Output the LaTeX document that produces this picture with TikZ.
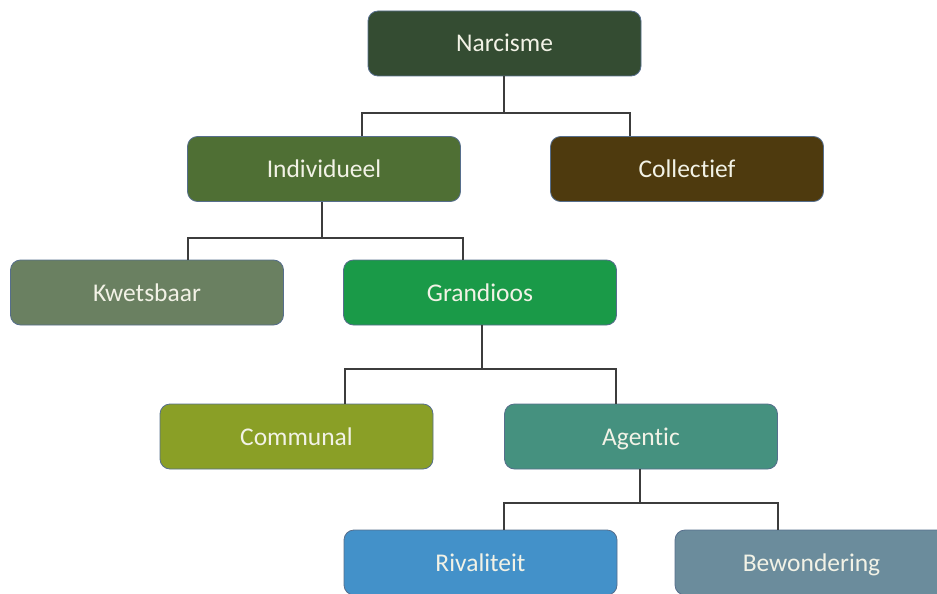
\documentclass[tikz,border=0pt]{standalone}
\usepackage{fontspec}
\setmainfont{Carlito}[Ligatures={NoCommon}]
\definecolor{cNarc}{HTML}{344C32}
\definecolor{cInd}{HTML}{4F6F34}
\definecolor{cCol}{HTML}{4E3A0E}
\definecolor{cKwe}{HTML}{6A8061}
\definecolor{cGra}{HTML}{1A9A48}
\definecolor{cCom}{HTML}{8A9F26}
\definecolor{cAge}{HTML}{45917F}
\definecolor{cRiv}{HTML}{4391C9}
\definecolor{cBew}{HTML}{6B8C9C}
\definecolor{cBorder}{HTML}{566E8C}
\definecolor{cTxt}{HTML}{F2F2E6}
\definecolor{cLine}{HTML}{3C3C3C}
\begin{document}
\begin{tikzpicture}[x=1pt,y=-1pt,
  box/.style={draw=cBorder,line width=0.8pt,rounded corners=10pt,
    minimum width=273pt,minimum height=65pt,inner sep=0pt,
    text height=18pt,text depth=1pt,
    text=cTxt,font=\fontsize{25.5}{30}\selectfont},
  conn/.style={draw=cLine,line width=1.4pt}]
\useasboundingbox (0,0) rectangle (937,594);
\begin{scope}
\clip (0,0) rectangle (937,594);
\node[box,fill=cNarc] (narc) at (504.5,43.5) {Narcisme};
\node[box,fill=cInd] (indiv) at (324,169) {Individueel};
\node[box,fill=cCol] (coll) at (687,169) {Collectief};
\node[box,fill=cKwe] (kwets) at (147,292.5) {Kwetsbaar};
\node[box,fill=cGra] (grand) at (480,292.5) {Grandioos};
\node[box,fill=cCom] (comm) at (296.5,436.5) {Communal};
\node[box,fill=cAge] (agen) at (641,436.5) {Agentic};
\node[box,fill=cRiv] (riv) at (480.5,562.5) {Rivaliteit};
\node[box,fill=cBew] (bew) at (811.5,562.5) {Bewondering};

\coordinate (a0) at (504,113);
\coordinate (a1) at (362,113);
\coordinate (a2) at (630,113);
\draw[conn] (a0 |- narc.south) -- (a0);
\draw[conn] (a1 |- indiv.north) -- (a1) -- (a2) -- (a2 |- coll.north);

\coordinate (b0) at (322,238);
\coordinate (b1) at (188,238);
\coordinate (b2) at (463,238);
\draw[conn] (b0 |- indiv.south) -- (b0);
\draw[conn] (b1 |- kwets.north) -- (b1) -- (b2) -- (b2 |- grand.north);

\coordinate (c0) at (482,369);
\coordinate (c1) at (345,369);
\coordinate (c2) at (616,369);
\draw[conn] (c0 |- grand.south) -- (c0);
\draw[conn] (c1 |- comm.north) -- (c1) -- (c2) -- (c2 |- agen.north);

\coordinate (d0) at (640,503);
\coordinate (d1) at (504,503);
\coordinate (d2) at (778,503);
\draw[conn] (d0 |- agen.south) -- (d0);
\draw[conn] (d1 |- riv.north) -- (d1) -- (d2) -- (d2 |- bew.north);
\end{scope}
\end{tikzpicture}
\end{document}
